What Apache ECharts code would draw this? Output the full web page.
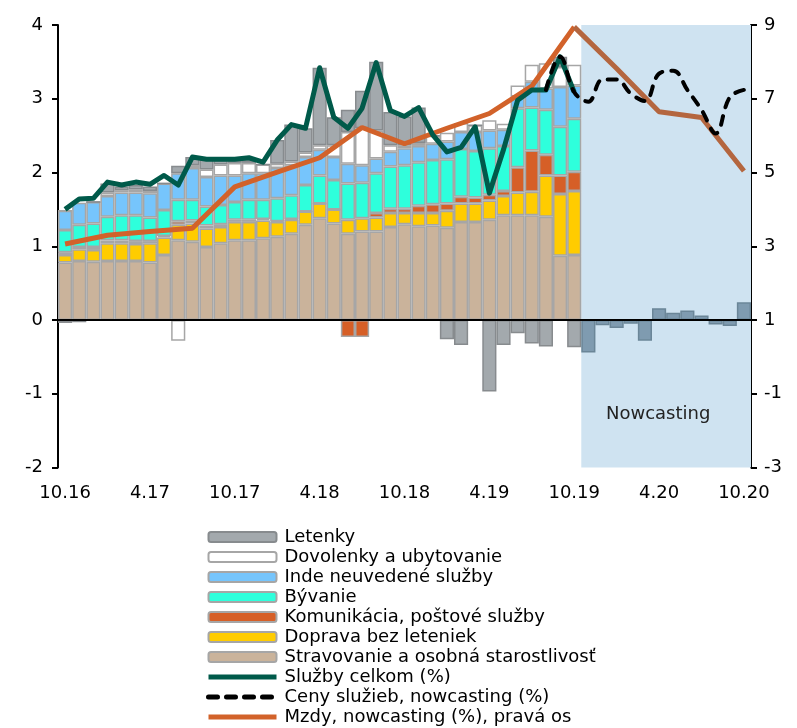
<!DOCTYPE html>
<html>
<head>
<meta charset="utf-8">
<script src="https://cdn.jsdelivr.net/npm/echarts@6/dist/echarts.min.js"></script>
<style>
  html, body { margin: 0; padding: 0; background: #fff; }
  #chart { width: 797px; height: 728px; }
</style>
</head>
<body>
<div id="chart"></div>
<script>
const months = [
  '10.16', '11.16', '12.16', '1.17', '2.17', '3.17', '4.17', '5.17', '6.17', '7.17', '8.17', '9.17',
  '10.17', '11.17', '12.17', '1.18', '2.18', '3.18', '4.18', '5.18', '6.18', '7.18', '8.18', '9.18',
  '10.18', '11.18', '12.18', '1.19', '2.19', '3.19', '4.19', '5.19', '6.19', '7.19', '8.19', '9.19',
  '10.19', '11.19', '12.19', '1.20', '2.20', '3.20', '4.20', '5.20', '6.20', '7.20', '8.20', '9.20',
  '10.20'
]
const nowcastFrom = '11.19'

// prispevky (p.b.), 10.16 - 10.19, letenky aj v nowcastingu
const stravovanie = [0.78, 0.80, 0.79, 0.80, 0.80, 0.80, 0.78, 0.88, 1.08, 1.06, 0.99, 1.04, 1.08, 1.08, 1.11, 1.13, 1.17, 1.29, 1.38, 1.31, 1.17, 1.20, 1.20, 1.26, 1.30, 1.27, 1.28, 1.25, 1.33, 1.33, 1.36, 1.42, 1.42, 1.42, 1.40, 0.87, 0.88]
const doprava = [0.10, 0.16, 0.16, 0.24, 0.24, 0.23, 0.26, 0.24, 0.21, 0.25, 0.25, 0.22, 0.25, 0.25, 0.24, 0.20, 0.19, 0.18, 0.20, 0.19, 0.19, 0.18, 0.19, 0.19, 0.15, 0.18, 0.17, 0.23, 0.25, 0.25, 0.26, 0.26, 0.31, 0.32, 0.56, 0.84, 0.87]
const komunikacia = [0.04, 0.03, 0.04, 0.04, 0.04, 0.04, 0.03, 0.02, 0.05, 0.04, 0.04, 0.04, 0.03, 0.03, 0.02, 0.01, 0.01, 0, 0, 0, -0.23, -0.23, 0.06, 0.06, 0.06, 0.10, 0.12, 0.10, 0.09, 0.08, 0.08, 0.07, 0.34, 0.56, 0.28, 0.25, 0.26]
const byvanie = [0.30, 0.30, 0.32, 0.32, 0.34, 0.35, 0.32, 0.35, 0.29, 0.28, 0.26, 0.26, 0.24, 0.27, 0.26, 0.31, 0.32, 0.36, 0.38, 0.40, 0.49, 0.48, 0.54, 0.57, 0.59, 0.59, 0.60, 0.60, 0.65, 0.63, 0.63, 0.61, 0.80, 0.58, 0.61, 0.66, 0.72]
const inde = [0.26, 0.30, 0.29, 0.28, 0.31, 0.31, 0.33, 0.36, 0.36, 0.43, 0.40, 0.40, 0.36, 0.36, 0.36, 0.41, 0.41, 0.38, 0.35, 0.31, 0.27, 0.24, 0.20, 0.20, 0.23, 0.22, 0.22, 0.24, 0.23, 0.26, 0.24, 0.22, 0.16, 0.35, 0.29, 0.54, 0.45]
const dovolenky = [0, -0.02, 0, 0.05, 0.03, 0.04, 0.03, 0, -0.28, 0.04, 0.10, 0.15, 0.17, 0.14, 0.12, 0.06, 0.05, 0.06, 0.06, 0.16, 0.43, 0.50, 0.38, 0.09, 0.04, 0.04, 0.11, 0.12, 0.12, 0.09, 0.14, 0.08, 0.15, 0.23, 0.34, 0.27, 0.28]
const letenky = [-0.04, 0, 0, 0.12, 0.05, 0.06, 0.06, 0, 0.10, 0.11, 0.14, 0.06, 0.03, 0.04, 0, 0.32, 0.50, 0.33, 1.05, 0.38, 0.30, 0.51, 0.93, 0.45, 0.39, 0.48, 0, -0.26, -0.34, 0, -0.97, -0.34, -0.18, -0.32, -0.36, 0.14, -0.37,
  -0.44, -0.07, -0.11, -0.05, -0.28, 0.16, 0.10, 0.13, 0.06, -0.06, -0.08, 0.24]

// ciary (%)
const sluzbyCelkom = [1.50, 1.64, 1.65, 1.87, 1.83, 1.87, 1.84, 1.96, 1.83, 2.21, 2.18, 2.18, 2.18, 2.20, 2.14, 2.44, 2.65, 2.60, 3.42, 2.75, 2.60, 2.87, 3.49, 2.84, 2.76, 2.88, 2.51, 2.28, 2.34, 2.62, 1.72, 2.31, 2.98, 3.12, 3.12, 3.57, 3.09,
  null, null, null, null, null, null, null, null, null, null, null, null]
const cenyNowcast = [null, null, null, null, null, null, null, null, null, null, null, null, null, null, null, null, null,
  null, null, null, null, null, null, null, null, null, null, null, null, null, null, null, null, null,
  3.12, 3.57, 3.09, 2.96, 3.26, 3.26, 3.07, 2.97, 3.34, 3.38, 3.12, 2.85, 2.53, 3.02, 3.12]
// mzdy - stvrtrocne, prava os
const mzdy = [3.06, null, null, 3.30, null, null, 3.40, null, null, 3.49, null, null, 4.61, null, null, 5.01, null, null,
  5.40, null, null, 6.22, null, null, 5.78, null, null, 6.20, null, null, 6.60, null, null, 7.34, null, null,
  8.95, null, null, 7.82, null, null, 6.65, null, null, 6.49, null, null, 5.04]

const FONT = 'DejaVu Sans'
const nowIdx = months.indexOf(nowcastFrom)
const chart = echarts.init(document.getElementById('chart'), null, { renderer: 'canvas' })

function barSeries(name, data, color, border) {
  return {
    name: name,
    type: 'bar',
    stack: 'sluzby',
    data: data,
    barCategoryGap: '0%',
    itemStyle: { color: color, borderColor: border || '#a6a6a6', borderWidth: 1.5 },
    z: 2,
  }
}

const letenkyData = letenky.map((v, i) =>
  i >= nowIdx ? { value: v, itemStyle: { color: '#7f9bb0', borderColor: '#6b8698' } } : v
)
// mzdy: historicka cast a cast v nowcastingu (tmavsia)
const mzdyHist = mzdy.map((v, i) => (i < nowIdx ? v : null))
const mzdyNow = mzdy.map((v, i) => (i >= nowIdx - 1 ? v : null))

const series = [
  {
    // oblast nowcastingu na pomocnej spojitej osi x (0..pocet mesiacov)
    name: 'shade',
    type: 'line',
    xAxisIndex: 2,
    yAxisIndex: 2,
    data: [],
    silent: true,
    z: 1,
    markArea: {
      silent: true,
      itemStyle: { color: '#cfe3f1' },
      label: {
        show: true,
        position: 'insideBottom',
        distance: 44,
        offset: [-8, 0],
        color: '#222',
        fontFamily: FONT,
        fontSize: 18,
      },
      data: [[{ name: 'Nowcasting', xAxis: nowIdx, yAxis: 0 }, { xAxis: months.length, yAxis: 1 }]],
    },
  },
  barSeries('Stravovanie a osobná starostlivosť', stravovanie, '#cab39b'),
  barSeries('Doprava bez leteniek', doprava, '#ffcc00'),
  barSeries('Komunikácia, poštové služby', komunikacia, '#d65f27'),
  barSeries('Bývanie', byvanie, '#2effdc'),
  barSeries('Inde neuvedené služby', inde, '#76c5fc'),
  barSeries('Dovolenky a ubytovanie', dovolenky, '#ffffff'),
  barSeries('Letenky', letenkyData, '#a3a9ad', '#878b8e'),
  {
    name: 'Mzdy, nowcasting (%), pravá os',
    type: 'line',
    yAxisIndex: 1,
    data: mzdyHist,
    connectNulls: true,
    symbol: 'none',
    lineStyle: { color: '#d2622a', width: 5 },
    itemStyle: { color: '#d2622a' },
    z: 3,
  },
  {
    name: 'mzdy-nowcast',
    type: 'line',
    yAxisIndex: 1,
    data: mzdyNow,
    connectNulls: true,
    symbol: 'none',
    lineStyle: { color: '#b4663f', width: 5 },
    itemStyle: { color: '#b4663f' },
    z: 3,
  },
  {
    name: 'Služby celkom (%)',
    type: 'line',
    data: sluzbyCelkom,
    symbol: 'none',
    lineStyle: { color: '#005a4a', width: 5, join: 'round' },
    itemStyle: { color: '#005a4a' },
    z: 4,
  },
  {
    name: 'Ceny služieb, nowcasting (%)',
    type: 'line',
    data: cenyNowcast,
    symbol: 'none',
    smooth: 0.4,
    lineStyle: { color: '#000000', width: 4, type: [9, 9], cap: 'round' },
    itemStyle: { color: '#000000' },
    z: 5,
  },
]

const lineLegend = (name) => ({ name: name, itemStyle: { opacity: 0 }, lineStyle: { width: 5 } })

const option = {
  animation: false,
  textStyle: { fontFamily: FONT, fontSize: 18, color: '#000' },
  grid: { left: 58, right: 46, top: 25, bottom: 260.5 },
  xAxis: [
    {
      type: 'category',
      data: months,
      boundaryGap: true,
      axisLine: { onZero: true, onZeroAxisIndex: 0, lineStyle: { color: '#000', width: 2 } },
      axisTick: { interval: 5, length: 6, lineStyle: { color: '#000', width: 2 } },
      axisLabel: { show: false },
      splitLine: { show: false },
      z: 6,
    },
    {
      type: 'category',
      data: months,
      position: 'bottom',
      boundaryGap: true,
      axisLine: { show: false, onZero: false },
      axisTick: { show: false },
      axisLabel: { interval: 5, margin: 17, fontFamily: FONT, fontSize: 18, color: '#000' },
      splitLine: { show: false },
    },
    { type: 'value', min: 0, max: months.length, show: false },
  ],
  yAxis: [
    {
      type: 'value',
      min: -2,
      max: 4,
      interval: 1,
      axisLine: { show: true, lineStyle: { color: '#000', width: 2 } },
      axisTick: { show: true, length: 6, lineStyle: { color: '#000', width: 2 } },
      axisLabel: { margin: 15, fontFamily: FONT, fontSize: 18, color: '#000' },
      splitLine: { show: false },
    },
    {
      type: 'value',
      position: 'right',
      min: -3,
      max: 9,
      interval: 2,
      axisLine: { show: true, lineStyle: { color: '#000', width: 2 } },
      axisTick: { show: true, length: 6, lineStyle: { color: '#000', width: 2 } },
      axisLabel: { margin: 13, fontFamily: FONT, fontSize: 18, color: '#000' },
      splitLine: { show: false },
    },
    { type: 'value', min: 0, max: 1, show: false },
  ],
  legend: {
    orient: 'vertical',
    left: 206,
    top: 527,
    padding: 0,
    itemGap: 0,
    itemWidth: 68,
    itemHeight: 10,
    textStyle: { fontFamily: FONT, fontSize: 18, lineHeight: 20, color: '#000', padding: [0, 0, 0, 3] },
    data: [
      'Letenky',
      'Dovolenky a ubytovanie',
      'Inde neuvedené služby',
      'Bývanie',
      'Komunikácia, poštové služby',
      'Doprava bez leteniek',
      'Stravovanie a osobná starostlivosť',
      lineLegend('Služby celkom (%)'),
      lineLegend('Ceny služieb, nowcasting (%)'),
      lineLegend('Mzdy, nowcasting (%), pravá os'),
    ],
  },
  series: series,
}

chart.setOption(option)
</script>
</body>
</html>
